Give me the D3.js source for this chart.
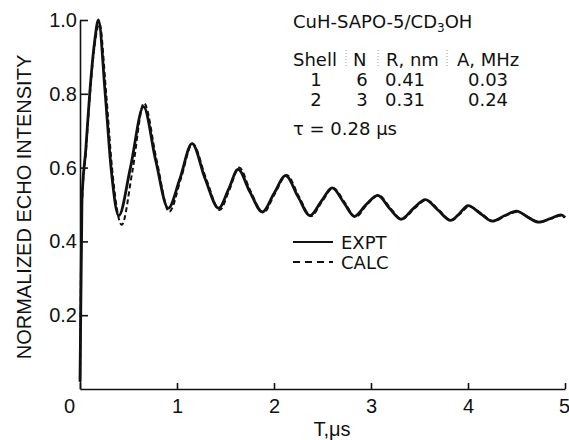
<!DOCTYPE html>
<html>
<head>
<meta charset="utf-8">
<script src="https://cdn.jsdelivr.net/npm/d3@7"></script>
<style>
  body { margin: 0; background: #fff; }
  text { font-family: "Liberation Sans", Arial, sans-serif; fill: #111; }
</style>
</head>
<body>
<div id="chart"></div>
<script>
// echo decay
var exptT = [0.00, 0.02, 0.06, 0.10, 0.15, 0.19, 0.26, 0.32, 0.40, 0.52, 0.655, 0.78, 0.91, 1.03, 1.155, 1.29, 1.43, 1.53, 1.63, 1.75, 1.88, 2.00, 2.12, 2.25, 2.37, 2.49, 2.60, 2.72, 2.83, 2.95, 3.07, 3.19, 3.31, 3.44, 3.56, 3.69, 3.82, 3.91, 4.00, 4.13, 4.25, 4.38, 4.50, 4.62, 4.73, 4.85, 4.96, 5.00];
var exptV = [0.02, 0.51, 0.65, 0.80, 0.94, 1.00, 0.80, 0.60, 0.47, 0.60, 0.765, 0.62, 0.49, 0.57, 0.665, 0.57, 0.49, 0.54, 0.595, 0.535, 0.48, 0.53, 0.578, 0.52, 0.47, 0.51, 0.545, 0.505, 0.468, 0.50, 0.525, 0.49, 0.46, 0.49, 0.513, 0.485, 0.457, 0.475, 0.497, 0.475, 0.455, 0.47, 0.482, 0.465, 0.452, 0.462, 0.472, 0.465];

var calcT = [0.00, 0.02, 0.06, 0.10, 0.15, 0.20, 0.27, 0.33, 0.43, 0.54, 0.66, 0.79, 0.92, 1.04, 1.16, 1.30, 1.44, 1.54, 1.64, 1.76, 1.89, 2.01, 2.13, 2.26, 2.38, 2.50, 2.61, 2.73, 2.84, 2.96, 3.08, 3.20, 3.32, 3.45, 3.57, 3.70, 3.83, 3.92, 4.01, 4.14, 4.26, 4.39, 4.51, 4.63, 4.74, 4.86, 4.97, 5.00];
var calcV = [0.02, 0.50, 0.64, 0.79, 0.93, 0.99, 0.80, 0.60, 0.445, 0.59, 0.775, 0.62, 0.48, 0.57, 0.665, 0.57, 0.485, 0.54, 0.60, 0.535, 0.478, 0.53, 0.58, 0.52, 0.468, 0.51, 0.545, 0.505, 0.466, 0.50, 0.525, 0.49, 0.46, 0.49, 0.512, 0.485, 0.457, 0.475, 0.495, 0.475, 0.455, 0.47, 0.48, 0.465, 0.452, 0.462, 0.47, 0.465];

var xTicks = [0, 1, 2, 3, 4, 5];
var yTicks = [0.2, 0.4, 0.6, 0.8, 1.0];

var shellHead = ["Shell", "N", "R, nm", "A, MHz"];
var shellRows = [
    ["1", "6", "0.41", "0.03"],
    ["2", "3", "0.31", "0.24"]
];

var dims = { width: 569, height: 440 };
var noteFont = '"DejaVu Sans", sans-serif';

var x = d3.scaleLinear().domain([0, 5]).range([80, 565]);
var y = d3.scaleLinear().domain([0, 1]).range([389, 20]);

var svg = d3.select('#chart')
    .append('svg')
    .attr('width', dims.width)
    .attr('height', dims.height);

// axes, ticks pointing inward
var xAxis = svg.append('g')
    .attr('transform', 'translate(0,' + y(0) + ')')
    .call(d3.axisBottom(x).tickValues(xTicks).tickSize(-6).tickSizeOuter(0).tickPadding(10).tickFormat(d3.format('d')));

var yAxis = svg.append('g')
    .attr('transform', 'translate(' + x(0) + ',0)')
    .call(d3.axisLeft(y).tickValues(yTicks).tickSize(-8).tickSizeOuter(0).tickPadding(3).tickFormat(d3.format('.1f')));

[xAxis, yAxis].forEach(function(ax){
    ax.select('.domain').attr('stroke', '#111').attr('stroke-width', 1.6);
    ax.selectAll('.tick line').attr('stroke', '#111').attr('stroke-width', 1.6);
    ax.selectAll('.tick text')
        .style('font-family', '"Liberation Sans", Arial, sans-serif')
        .style('font-size', '20px')
        .attr('fill', '#111');
});
yAxis.selectAll('.tick text').attr('x', -3);
xAxis.selectAll('.tick text').filter(function(d){ return d === 0; }).attr('dx', -11);
xAxis.selectAll('.tick text').filter(function(d){ return d === 5; }).attr('dx', -1);

svg.append('text')
    .attr('transform', 'translate(31,' + 207 + ') rotate(-90)')
    .attr('text-anchor', 'middle')
    .style('font-size', '20px')
    .text('NORMALIZED ECHO INTENSITY');

svg.append('text')
    .attr('x', 332)
    .attr('y', 436)
    .attr('text-anchor', 'middle')
    .style('font-size', '20px')
    .text('T,μs');

// curves
var line = d3.line()
    .x(function(d){ return x(d[0]); })
    .y(function(d){ return y(d[1]); })
    .curve(d3.curveMonotoneX);

svg.append('path')
    .datum(d3.zip(calcT, calcV))
    .attr('d', line)
    .attr('fill', 'none')
    .attr('stroke', '#111')
    .attr('stroke-width', 2)
    .attr('stroke-dasharray', '5,3');

svg.append('path')
    .datum(d3.zip(exptT, exptV))
    .attr('d', line)
    .attr('fill', 'none')
    .attr('stroke', '#111')
    .attr('stroke-width', 2.8)
    .attr('stroke-linejoin', 'round');

// legend
var legend = svg.append('g').style('font-family', noteFont);
legend.append('line')
    .attr('x1', 293).attr('x2', 333).attr('y1', 242).attr('y2', 242)
    .attr('stroke', '#111').attr('stroke-width', 1.8);
legend.append('line')
    .attr('x1', 293).attr('x2', 333).attr('y1', 262).attr('y2', 262)
    .attr('stroke', '#111').attr('stroke-width', 1.8)
    .attr('stroke-dasharray', '7,5');
legend.append('text').attr('x', 341).attr('y', 249).style('font-family', noteFont).style('font-size', '18px').text('EXPT');
legend.append('text').attr('x', 341).attr('y', 269).style('font-family', noteFont).style('font-size', '18px').text('CALC');

// annotation block
var note = svg.append('g');
var title = note.append('text').attr('x', 293).attr('y', 28)
    .style('font-family', noteFont).style('font-size', '18px');
title.append('tspan').text('CuH-SAPO-5/CD');
title.append('tspan').attr('dy', 4).style('font-size', '12px').text('3');
title.append('tspan').attr('dy', -4).text('OH');

var colX = [293, 353, 386, 457];
var cellX = [316, 362, 405, 488];
note.selectAll('.head')
    .data(shellHead)
    .enter()
    .append('text')
    .attr('x', function(d, i){ return colX[i]; })
    .attr('y', 66)
    .style('font-family', noteFont)
    .style('font-size', '18px')
    .text(function(d){ return d; });

shellRows.forEach(function(row, r){
    note.selectAll('.row' + r)
        .data(row)
        .enter()
        .append('text')
        .attr('x', function(d, i){ return cellX[i]; })
        .attr('y', 86 + r * 20)
        .attr('text-anchor', 'middle')
        .style('font-family', noteFont)
        .style('font-size', '18px')
        .text(function(d){ return d; });
});

[346, 378, 447].forEach(function(sx){
    note.append('line')
        .attr('x1', sx).attr('x2', sx).attr('y1', 50).attr('y2', 68)
        .attr('stroke', '#999').attr('stroke-width', 1)
        .attr('stroke-dasharray', '1,2');
});

note.append('text').attr('x', 293).attr('y', 135)
    .style('font-family', noteFont).style('font-size', '18px')
    .text('τ = 0.28 μs');
</script>
</body>
</html>
